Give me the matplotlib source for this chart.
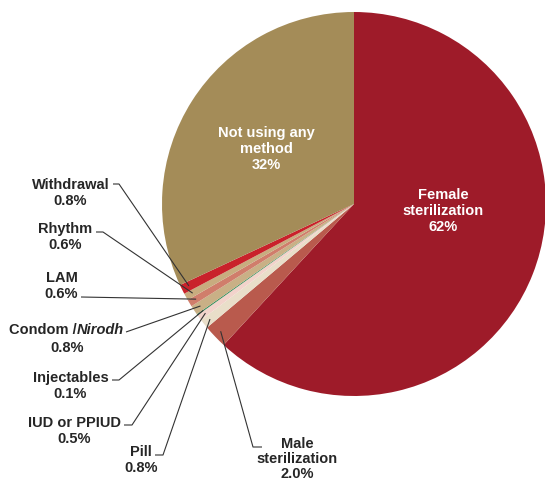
import numpy as np
import matplotlib.pyplot as plt

plt.rcParams['font.family'] = ['Liberation Sans', 'DejaVu Sans']

# contraceptive method mix, clockwise from 12 o'clock
metody = ["Female\nsterilization", "Male\nsterilization", "Pill", "IUD or PPIUD",
          "Injectables", "Condom /Nirodh", "LAM", "Rhythm", "Withdrawal",
          "Not using any\nmethod"]
udzialy = [62, 2.0, 0.8, 0.5, 0.1, 0.8, 0.6, 0.6, 0.8, 32]
etykiety_proc = ["62%", "2.0%", "0.8%", "0.5%", "0.1%", "0.8%", "0.6%", "0.6%", "0.8%", "32%"]
kolory = ["#9E1B29", "#B95A4D", "#E9DEC9", "#F2D3CB", "#2E8B57",
          "#C9B086", "#D07D6B", "#C8AC7F", "#C9222B", "#A48C58"]

W, H = 545, 485
SRODEK = (354, H - 205)
PROMIEN = 192
TEKST = "#262626"
ROZMIAR = 10.5
ODSTEP = 1.15

fig = plt.figure(figsize=(W / 100, H / 100), dpi=100)
ax = fig.add_axes([0, 0, 1, 1])
ax.set_xlim(0, W)
ax.set_ylim(0, H)
ax.set_aspect('equal')
ax.axis('off')

kliny, _ = ax.pie(udzialy, colors=kolory, startangle=90, counterclock=False,
                  center=SRODEK, radius=PROMIEN,
                  wedgeprops=dict(linewidth=0))
ax.set_xlim(0, W)
ax.set_ylim(0, H)


def punkt_klina(i, frac=0.96):
    k = kliny[i]
    kat = np.deg2rad((k.theta1 + k.theta2) / 2)
    return (SRODEK[0] + frac * PROMIEN * np.cos(kat),
            SRODEK[1] + frac * PROMIEN * np.sin(kat))


# labels inside the two big slices
wewnatrz = {0: (443, 211), 9: (266, 149)}
for i, (x, y) in wewnatrz.items():
    ax.text(x, H - y, metody[i] + "\n" + etykiety_proc[i], color="white",
            fontsize=ROZMIAR, fontweight="bold", ha="center", va="center",
            linespacing=ODSTEP)

# outside labels: text centre, then leader path (start, elbow) in pixels
zewnatrz = {
    8: ((70.5, 193), [(113, 185), (119, 185)]),
    7: ((65, 237), [(96, 233), (103, 233)]),
    6: ((61.5, 286), [(81, 298)]),
    5: ((67, 339), [(126, 333)]),
    4: ((70.5, 386), [(112, 381), (119, 381)]),
    3: ((74, 431), [(124, 426), (132, 426)]),
    2: ((141, 460), [(155, 456), (163, 456)]),
    1: ((297, 459), [(262, 448), (253, 448)]),
}

for i, ((x, y), sciezka) in zewnatrz.items():
    if i == 5:
        # "Nirodh" is set in italic
        ax.text(77, H - 330, "Condom /", color=TEKST, fontsize=ROZMIAR,
                fontweight="bold", ha="right", va="center")
        ax.text(77, H - 330, "Nirodh", color=TEKST, fontsize=ROZMIAR,
                fontweight="bold", fontstyle="italic", ha="left", va="center")
        ax.text(x, H - 348, etykiety_proc[i], color=TEKST, fontsize=ROZMIAR,
                fontweight="bold", ha="center", va="center")
    else:
        ax.text(x, H - y, metody[i] + "\n" + etykiety_proc[i], color=TEKST,
                fontsize=ROZMIAR, fontweight="bold", ha="center", va="center",
                linespacing=ODSTEP if i != 1 else 1.05)
    px, py = punkt_klina(i)
    xs = [p[0] for p in sciezka] + [px]
    ys = [H - p[1] for p in sciezka] + [py]
    ax.plot(xs, ys, color="#333333", lw=0.8, solid_capstyle="butt")

fig.savefig("out.png", dpi=100)
